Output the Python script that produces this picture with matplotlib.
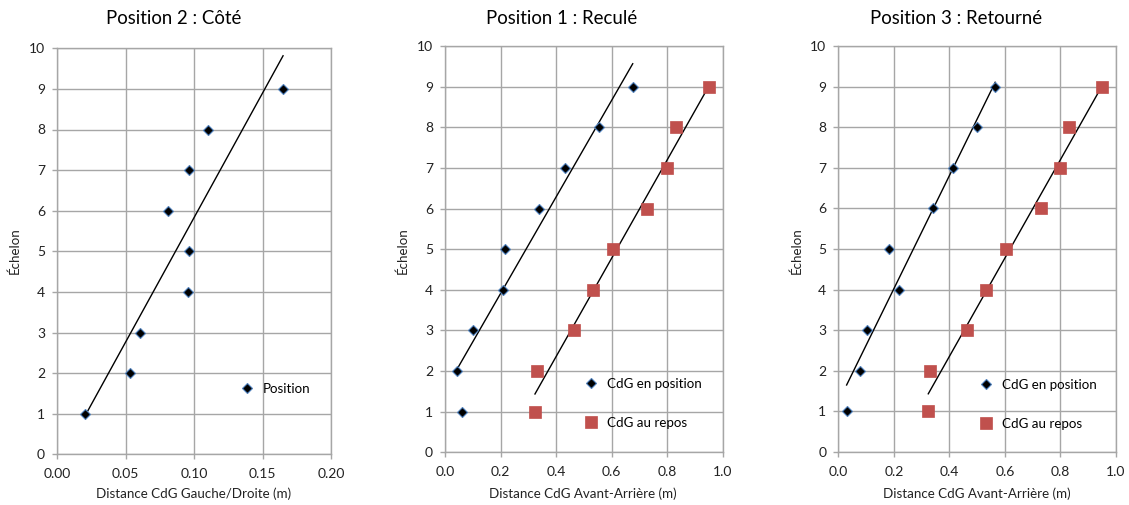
import numpy as np
import matplotlib
matplotlib.use("Agg")
import matplotlib.pyplot as plt
from matplotlib.ticker import FormatStrFormatter, MultipleLocator

plt.rcParams['font.family'] = ['Lato', 'DejaVu Sans']

# Rung numbers (Échelon)
echelons = [1, 2, 3, 4, 5, 6, 7, 8, 9]

# Position 2 : Côté — left/right CoG distance (m)
cote_position = [0.0207, 0.053, 0.0608, 0.0953, 0.0962, 0.0812, 0.0965, 0.110, 0.165]

# Position 1 : Reculé — front/back CoG distance (m)
recule_position = [0.060, 0.043, 0.101, 0.208, 0.217, 0.337, 0.431, 0.555, 0.676]
recule_repos = [0.324, 0.330, 0.463, 0.532, 0.604, 0.729, 0.801, 0.832, 0.952]

# Position 3 : Retourné — front/back CoG distance (m)
retourne_position = [0.030, 0.078, 0.102, 0.220, 0.184, 0.342, 0.414, 0.498, 0.565]
retourne_repos = [0.324, 0.330, 0.463, 0.532, 0.604, 0.729, 0.800, 0.832, 0.951]

titles = ["Position 2 : Côté", "Position 1 : Reculé", "Position 3 : Retourné"]
xlabels = ["Distance CdG Gauche/Droite (m)", "Distance CdG Avant-Arrière (m)",
           "Distance CdG Avant-Arrière (m)"]
label_pos = "Position"
label_en_position = "CdG en position"
label_au_repos = "CdG au repos"

W, H = 1129, 505
fig = plt.figure(figsize=(W / 100, H / 100), dpi=100)

GRID = "#a6a6a6"
RED = "#C0504D"
EDGE = "#4F81BD"
TXT = "#222222"


def px_axes(left, right, top, bottom):
    return fig.add_axes([left / W, 1 - bottom / H, (right - left) / W, (bottom - top) / H])


def style(ax, xmax, xstep, fmt):
    ax.set_xlim(0, xmax)
    ax.set_ylim(0, 10)
    ax.xaxis.set_major_locator(MultipleLocator(xstep))
    ax.yaxis.set_major_locator(MultipleLocator(1))
    ax.xaxis.set_major_formatter(FormatStrFormatter(fmt))
    ax.grid(True, color=GRID, linewidth=1.0)
    ax.set_axisbelow(True)
    for s in ax.spines.values():
        s.set_color(GRID)
        s.set_linewidth(1.0)
    ax.tick_params(axis='both', direction='out', length=3.6, width=1.0, color=GRID,
                   labelsize=10, labelcolor=TXT)
    ax.tick_params(axis='x', pad=6.5)
    ax.tick_params(axis='y', pad=5)


def trend(ax, x, y):
    x = np.asarray(x)
    a, b = np.polyfit(x, y, 1)
    xs = np.array([x.min(), x.max()])
    ax.plot(xs, a * xs + b, color="black", linewidth=1.0, zorder=2)


def diamonds(ax, x, y, label):
    ax.plot(x, y, linestyle="none", marker="D", markersize=5.2, markerfacecolor="black",
            markeredgecolor=EDGE, markeredgewidth=0.8, label=label, zorder=3)


def squares(ax, x, y, label):
    ax.plot(x, y, linestyle="none", marker="s", markersize=8, markerfacecolor=RED,
            markeredgecolor=RED, markeredgewidth=0.5, label=label, zorder=3)


LEG = dict(frameon=False, fontsize=9.6, handlelength=1.0, handletextpad=0.7,
           borderpad=0, borderaxespad=0)

# Panel 1
ax1 = px_axes(57, 331, 48.3, 454.3)
style(ax1, 0.20, 0.05, "%.2f")
trend(ax1, cote_position, echelons)
diamonds(ax1, cote_position, echelons, label_pos)
ax1.legend(loc="center left", bbox_to_anchor=(0.67, 0.161), **LEG)

# Panel 2
ax2 = px_axes(445, 722.7, 46, 452.3)
style(ax2, 1.0, 0.2, "%.1f")
trend(ax2, recule_position, echelons)
trend(ax2, recule_repos, echelons)
diamonds(ax2, recule_position, echelons, label_en_position)
squares(ax2, recule_repos, echelons, label_au_repos)
ax2.legend(loc="upper left", bbox_to_anchor=(0.50, 0.184), labelspacing=2.05, **LEG)

# Panel 3
ax3 = px_axes(838.3, 1116, 46, 452)
style(ax3, 1.0, 0.2, "%.1f")
trend(ax3, retourne_position, echelons)
trend(ax3, retourne_repos, echelons)
diamonds(ax3, retourne_position, echelons, label_en_position)
squares(ax3, retourne_repos, echelons, label_au_repos)
ax3.legend(loc="upper left", bbox_to_anchor=(0.507, 0.181), labelspacing=2.05, **LEG)

# Titles and axis labels placed over each chart area
title_x = [174, 562, 956]
xlabel_x = [194, 583, 977]
ylabel_x = [15, 403, 797]
for tx, t in zip(title_x, titles):
    fig.text(tx / W, 1 - 18 / H, t, ha="center", va="center", fontsize=13.4, color="black")
for lx, t in zip(xlabel_x, xlabels):
    fig.text(lx / W, 1 - 494 / H, t, ha="center", va="center", fontsize=9.6, color=TXT)
for yx in ylabel_x:
    fig.text(yx / W, 1 - 251 / H, "Échelon", ha="center", va="center", rotation=90,
             fontsize=9.6, color=TXT)

fig.savefig("out.png", dpi=100)
